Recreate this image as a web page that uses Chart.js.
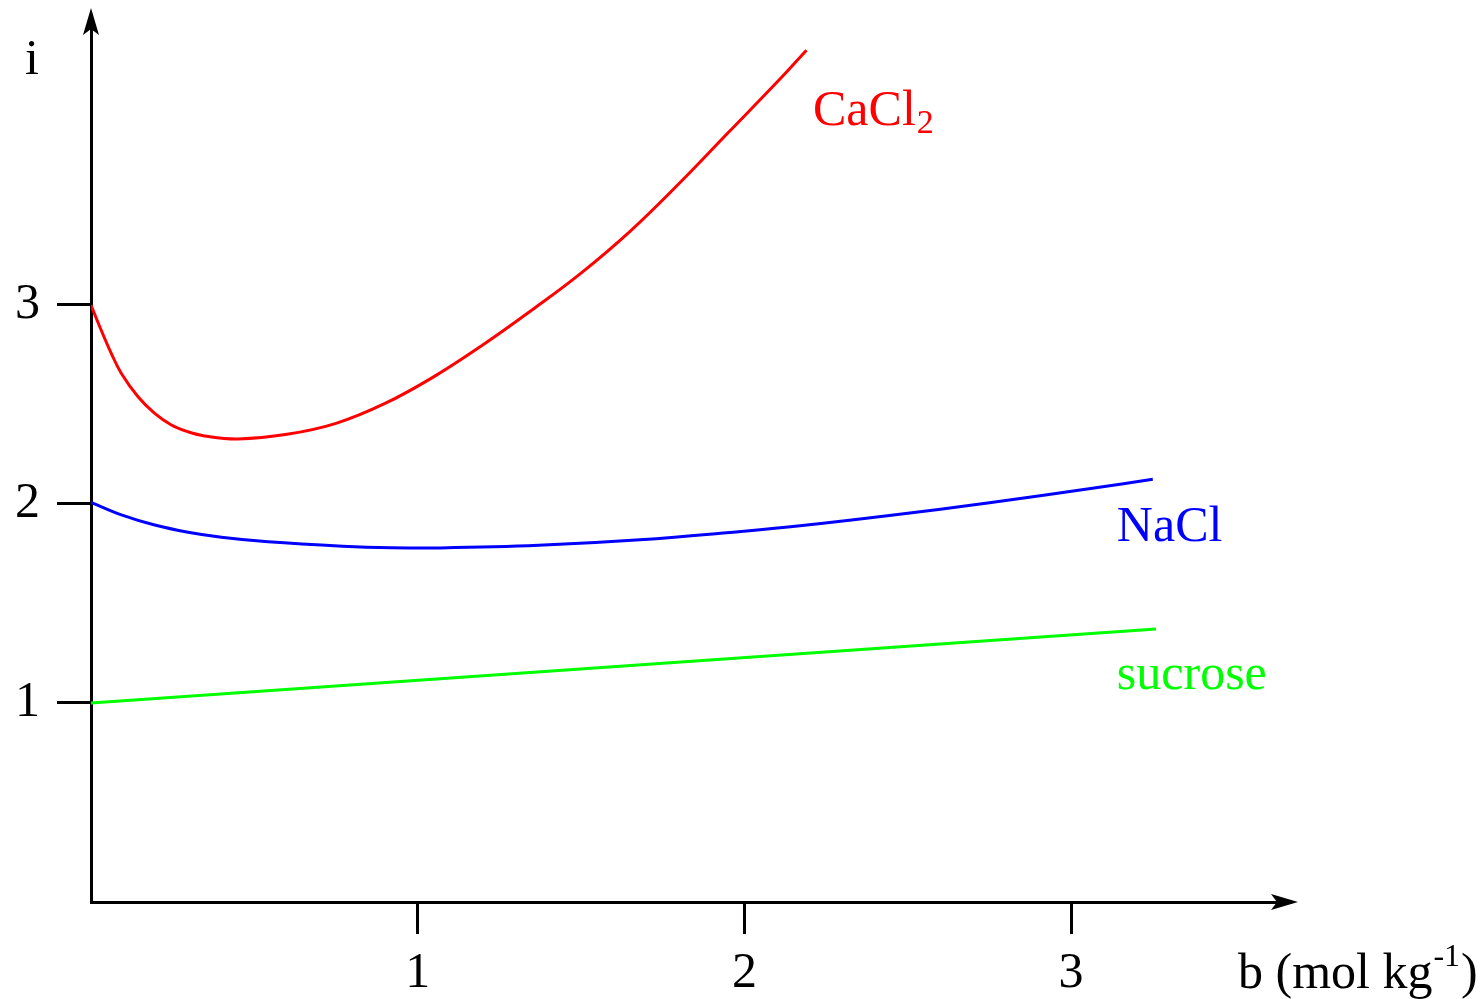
<!DOCTYPE html>
<html>
<head>
<meta charset="utf-8">
<script src="https://cdn.jsdelivr.net/npm/chart.js@4.4.1/dist/chart.umd.min.js"></script>
<style>
  html, body { margin: 0; padding: 0; background: #fff; }
  #wrap { width: 1484px; height: 999px; position: relative; }
</style>
</head>
<body>
<div id="wrap"><canvas id="chart"></canvas></div>
<script>
// van 't Hoff factor i vs molality b
const cacl2B = [0, 0.031, 0.062, 0.093, 0.144, 0.195, 0.246, 0.297, 0.348, 0.45, 0.60, 0.75, 0.90, 1.05, 1.20, 1.35, 1.50, 1.65, 1.80, 1.95, 2.10, 2.19];
const cacl2I = [3.00, 2.874, 2.757, 2.656, 2.539, 2.455, 2.397, 2.363, 2.342, 2.327, 2.35, 2.405, 2.505, 2.64, 2.80, 2.975, 3.16, 3.37, 3.61, 3.865, 4.12, 4.28];

const naclB = [0, 0.093, 0.195, 0.297, 0.399, 0.542, 0.77, 0.92, 1.07, 1.37, 1.68, 1.99, 2.17, 2.45, 2.75, 3.06, 3.25];
const naclI = [2.008, 1.945, 1.894, 1.858, 1.833, 1.810, 1.788, 1.780, 1.779, 1.792, 1.820, 1.862, 1.890, 1.943, 2.006, 2.078, 2.124];

const sucroseB = [0, 3.26];
const sucroseI = [1.0, 1.372];

const xTicks = [1, 2, 3];
const yTicks = [1, 2, 3];

const FONT = "'Liberation Serif', 'DejaVu Serif', serif";
const pts = (xs, ys) => xs.map((x, k) => ({ x, y: ys[k] }));

// series name labels, placed in data units next to each curve end
const curveLabels = [
  { text: 'CaCl', sub: '2', b: 2.21, i: 3.905, color: '#ff0000' },
  { text: 'NaCl', b: 3.14, i: 1.814, color: '#0000ff' },
  { text: 'sucrose', b: 3.14, i: 1.07, color: '#00ff00' }
];

const decorations = {
  id: 'decorations',
  afterDraw(chart) {
    const { ctx, chartArea: a, scales } = chart;
    ctx.save();
    ctx.fillStyle = '#000';
    // arrow heads
    const arrow = (tx, ty, dir) => {
      ctx.beginPath();
      if (dir === 'up') {
        ctx.moveTo(tx, ty);
        ctx.lineTo(tx + 8, ty + 27);
        ctx.lineTo(tx, ty + 21);
        ctx.lineTo(tx - 8, ty + 27);
      } else {
        ctx.moveTo(tx, ty);
        ctx.lineTo(tx - 27, ty - 8);
        ctx.lineTo(tx - 21, ty);
        ctx.lineTo(tx - 27, ty + 8);
      }
      ctx.closePath();
      ctx.fill();
    };
    ctx.strokeStyle = '#000';
    ctx.lineWidth = 3;
    ctx.beginPath();
    ctx.moveTo(a.left, a.top);
    ctx.lineTo(a.left, 20);
    ctx.moveTo(a.right, a.bottom);
    ctx.lineTo(1285, a.bottom);
    ctx.stroke();
    arrow(a.left, 8, 'up');
    arrow(1298, a.bottom, 'right');

    // axis titles
    ctx.textBaseline = 'alphabetic';
    ctx.textAlign = 'left';
    ctx.font = `50px ${FONT}`;
    ctx.fillText('i', 25, 74);
    let x = 1238;
    const t1 = 'b (mol kg';
    ctx.fillText(t1, x, 988);
    x += ctx.measureText(t1).width;
    ctx.font = `32px ${FONT}`;
    ctx.fillText('-1', x + 1, 966);
    x += ctx.measureText('-1').width + 2;
    ctx.font = `50px ${FONT}`;
    ctx.fillText(')', x, 988);

    // curve labels
    curveLabels.forEach(l => {
      const px = scales.x.getPixelForValue(l.b);
      const py = scales.y.getPixelForValue(l.i);
      ctx.fillStyle = l.color;
      ctx.font = `50px ${FONT}`;
      ctx.fillText(l.text, px, py);
      if (l.sub) {
        const w = ctx.measureText(l.text).width;
        ctx.font = `34px ${FONT}`;
        ctx.fillText(l.sub, px + w + 1, py + 8);
      }
    });
    ctx.restore();
  }
};

const axisStyle = (ticks, tickLength, padding) => ({
  type: 'linear',
  afterBuildTicks: s => { s.ticks = ticks.map(v => ({ value: v })); },
  grid: { display: true, drawOnChartArea: false, drawTicks: true, tickLength, color: '#000', lineWidth: 3 },
  border: { display: true, color: '#000', width: 3 },
  ticks: { color: '#000', padding, font: { family: FONT, size: 50 }, maxRotation: 0, autoSkip: false }
});

new Chart(document.getElementById('chart'), {
  type: 'scatter',
  data: {
    datasets: [
      { label: 'CaCl2', data: pts(cacl2B, cacl2I), borderColor: '#ff0000' },
      { label: 'NaCl', data: pts(naclB, naclI), borderColor: '#0000ff' },
      { label: 'sucrose', data: pts(sucroseB, sucroseI), borderColor: '#00ff00' }
    ].map(d => Object.assign(d, {
      showLine: true, borderWidth: 3, pointRadius: 0, tension: 0.4, fill: false
    }))
  },
  options: {
    responsive: true,
    maintainAspectRatio: false,
    animation: false,
    layout: { padding: { top: 15, right: 194, left: 0, bottom: 0 } },
    plugins: { legend: { display: false }, tooltip: { enabled: false } },
    scales: {
      x: Object.assign(axisStyle(xTicks, 32, 10), { min: 0, max: 3.67, afterFit: s => { s.height = 97; } }),
      y: Object.assign(axisStyle(yTicks, 34, 17), {
        min: 0, max: 4.457,
        afterFit: s => { s.width = 91; s.paddingTop = 0; s.paddingBottom = 0; }
      })
    }
  },
  plugins: [decorations]
});
</script>
</body>
</html>
